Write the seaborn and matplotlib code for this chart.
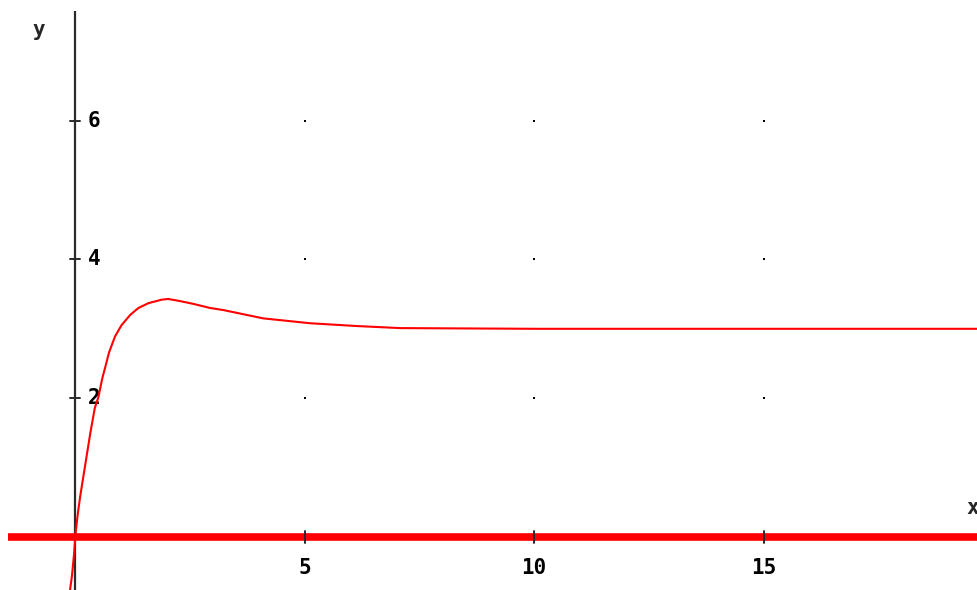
import matplotlib
matplotlib.use("Agg")
import matplotlib.pyplot as plt
import seaborn as sns
import pandas as pd
import numpy as np

# curve values
curve_x = [-0.11, -0.07, -0.02, 0.01, 0.06, 0.11, 0.18, 0.25, 0.33, 0.43, 0.51, 0.59,
           0.67, 0.74, 0.87, 1.01, 1.20, 1.38, 1.60, 1.89, 2.03, 2.28, 2.57, 2.94,
           3.23, 3.52, 3.81, 4.10, 4.54, 5.12, 6.13, 7.08, 10.0, 15.0, 19.7]
curve_y = [-0.76, -0.57, -0.23, 0.05, 0.34, 0.58, 0.87, 1.16, 1.49, 1.86, 2.02, 2.28,
           2.48, 2.66, 2.89, 3.05, 3.20, 3.30, 3.37, 3.42, 3.43, 3.40, 3.36, 3.30,
           3.27, 3.23, 3.19, 3.15, 3.12, 3.08, 3.04, 3.01, 3.00, 3.00, 3.00]
# horizontal thick line y = 0
zero_x = [-1.46, 19.7]
zero_y = [0.0, 0.0]

x_ticks = [5, 10, 15]
y_ticks = [2, 4, 6]
x_tick_labels = ["5", "10", "15"]
y_tick_labels = ["2", "4", "6"]

sns.set_style("white")
fig = plt.figure(figsize=(9.77, 5.90), dpi=100)
ax = fig.add_axes([0, 0, 1, 1])
ax.set_xlim(-1.636, 19.65)
ax.set_ylim(-0.764, 7.738)
for s in ax.spines.values():
    s.set_visible(False)
ax.set_xticks([])
ax.set_yticks([])

# y axis
ax.plot([0, 0], [-0.8, 7.58], color="#2a2a2a", lw=1.6, zorder=2, solid_capstyle="butt")

# grid dots
gx, gy = np.meshgrid(x_ticks, y_ticks)
ax.scatter(gx.ravel(), gy.ravel(), s=2.5, color="black", marker="s", linewidths=0, zorder=1)

# y ticks (crosses) and labels
for v, lab in zip(y_ticks, y_tick_labels):
    ax.plot([-0.11, 0.11], [v, v], color="#2a2a2a", lw=1.4, zorder=2)
    ax.text(0.27, v, lab, ha="left", va="center", fontsize=15, fontweight="bold",
            family="DejaVu Sans Mono", color="black")

df_zero = pd.DataFrame({"x": zero_x, "y": zero_y})
sns.lineplot(data=df_zero, x="x", y="y", color="#ff0000", lw=5.5, ax=ax, zorder=3,
             solid_capstyle="butt")

# x ticks and labels
for v, lab in zip(x_ticks, x_tick_labels):
    ax.plot([v, v], [-0.08, 0.08], color="#2a2a2a", lw=1.4, zorder=4)
    ax.text(v, -0.44, lab, ha="center", va="center", fontsize=15, fontweight="bold",
            family="DejaVu Sans Mono", color="black")

df_curve = pd.DataFrame({"x": curve_x, "y": curve_y})
sns.lineplot(data=df_curve, x="x", y="y", color="#ff0000", lw=1.5, ax=ax, sort=False, zorder=5)

ax.set_xlabel("")
ax.set_ylabel("")
ax.text(-0.8, 7.3, "y", ha="center", va="center", fontsize=15, fontweight="bold",
        family="DejaVu Sans Mono")
ax.text(19.55, 0.42, "x", ha="center", va="center", fontsize=15, fontweight="bold",
        family="DejaVu Sans Mono")

fig.savefig("out.png", dpi=100)
